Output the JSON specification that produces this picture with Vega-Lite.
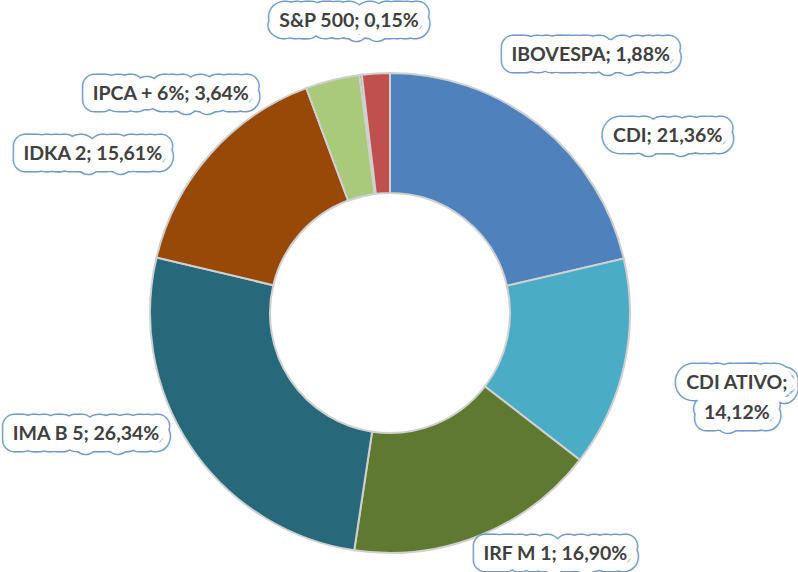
{
  "$schema": "https://vega.github.io/schema/vega-lite/v6.json",
  "width": 780,
  "height": 518,
  "autosize": "none",
  "padding": {"left": 0, "right": 18, "top": 54, "bottom": 0},
  "background": "white",
  "view": {"stroke": null},
  "data": {
    "values": [
      {"ordem": 1, "ativo": "CDI", "pct": 21.36, "rotulo": "CDI; 21,36%"},
      {"ordem": 2, "ativo": "CDI ATIVO", "pct": 14.12, "rotulo": "CDI ATIVO;\n14,12%"},
      {"ordem": 3, "ativo": "IRF M 1", "pct": 16.90, "rotulo": "IRF M 1; 16,90%"},
      {"ordem": 4, "ativo": "IMA B 5", "pct": 26.34, "rotulo": "IMA B 5; 26,34%"},
      {"ordem": 5, "ativo": "IDKA 2", "pct": 15.61, "rotulo": "IDKA 2; 15,61%"},
      {"ordem": 6, "ativo": "IPCA + 6%", "pct": 3.64, "rotulo": "IPCA + 6%; 3,64%"},
      {"ordem": 7, "ativo": "S&P 500", "pct": 0.15, "rotulo": "S&P 500; 0,15%"},
      {"ordem": 8, "ativo": "IBOVESPA", "pct": 1.88, "rotulo": "IBOVESPA; 1,88%"}
    ]
  },
  "encoding": {
    "theta": {"field": "pct", "type": "quantitative", "stack": true},
    "order": {"field": "ordem", "type": "quantitative"}
  },
  "layer": [
    {
      "mark": {"type": "arc", "innerRadius": 120, "outerRadius": 240, "stroke": "#D0D0D0", "strokeWidth": 2},
      "encoding": {
        "color": {
          "field": "ativo",
          "type": "nominal",
          "scale": {
            "domain": ["CDI", "CDI ATIVO", "IRF M 1", "IMA B 5", "IDKA 2", "IPCA + 6%", "S&P 500", "IBOVESPA"],
            "range": ["#4F81BD", "#4BACC6", "#5F7A30", "#27697B", "#984807", "#A9C97B", "#2C4D75", "#C0504D"]
          },
          "legend": null
        }
      }
    },
    {
      "mark": {
        "type": "text", "radius": 310, "font": "Lato", "fontWeight": "bold", "fontSize": 19.5, "lineBreak": "\n", "lineHeight": 30,
        "align": "center", "baseline": "middle",
        "fill": "#7199CE", "stroke": "#7199CE", "strokeWidth": 25, "strokeJoin": "round",
        "dx": {"expr": "datum.ativo == 'CDI' ? 85 : datum.ativo == 'CDI ATIVO' ? 44 : datum.ativo == 'IRF M 1' ? 50 : datum.ativo == 'IMA B 5' ? -47 : datum.ativo == 'IDKA 2' ? -65 : datum.ativo == 'IPCA + 6%' ? -145 : datum.ativo == 'S&P 500' ? -3 : 219"},
        "dy": {"expr": "datum.ativo == 'CDI' ? 66 : datum.ativo == 'CDI ATIVO' ? 4 : datum.ativo == 'IRF M 1' ? -47 : datum.ativo == 'IMA B 5' ? -52 : datum.ativo == 'IDKA 2' ? 46 : datum.ativo == 'IPCA + 6%' ? 82 : datum.ativo == 'S&P 500' ? 16 : 51"}
      },
      "encoding": {"text": {"field": "rotulo"}}
    },
    {
      "mark": {
        "type": "text", "radius": 310, "font": "Lato", "fontWeight": "bold", "fontSize": 19.5, "lineBreak": "\n", "lineHeight": 30,
        "align": "center", "baseline": "middle",
        "fill": "white", "stroke": "white", "strokeWidth": 22, "strokeJoin": "round",
        "dx": {"expr": "datum.ativo == 'CDI' ? 85 : datum.ativo == 'CDI ATIVO' ? 44 : datum.ativo == 'IRF M 1' ? 50 : datum.ativo == 'IMA B 5' ? -47 : datum.ativo == 'IDKA 2' ? -65 : datum.ativo == 'IPCA + 6%' ? -145 : datum.ativo == 'S&P 500' ? -3 : 219"},
        "dy": {"expr": "datum.ativo == 'CDI' ? 66 : datum.ativo == 'CDI ATIVO' ? 4 : datum.ativo == 'IRF M 1' ? -47 : datum.ativo == 'IMA B 5' ? -52 : datum.ativo == 'IDKA 2' ? 46 : datum.ativo == 'IPCA + 6%' ? 82 : datum.ativo == 'S&P 500' ? 16 : 51"}
      },
      "encoding": {"text": {"field": "rotulo"}}
    },
    {
      "mark": {
        "type": "text", "radius": 310, "font": "Lato", "fontWeight": "bold", "fontSize": 19.5, "lineBreak": "\n", "lineHeight": 30,
        "align": "center", "baseline": "middle", "fill": "#404040",
        "dx": {"expr": "datum.ativo == 'CDI' ? 85 : datum.ativo == 'CDI ATIVO' ? 44 : datum.ativo == 'IRF M 1' ? 50 : datum.ativo == 'IMA B 5' ? -47 : datum.ativo == 'IDKA 2' ? -65 : datum.ativo == 'IPCA + 6%' ? -145 : datum.ativo == 'S&P 500' ? -3 : 219"},
        "dy": {"expr": "datum.ativo == 'CDI' ? 66 : datum.ativo == 'CDI ATIVO' ? 4 : datum.ativo == 'IRF M 1' ? -47 : datum.ativo == 'IMA B 5' ? -52 : datum.ativo == 'IDKA 2' ? 46 : datum.ativo == 'IPCA + 6%' ? 82 : datum.ativo == 'S&P 500' ? 16 : 51"}
      },
      "encoding": {"text": {"field": "rotulo"}}
    }
  ]
}
